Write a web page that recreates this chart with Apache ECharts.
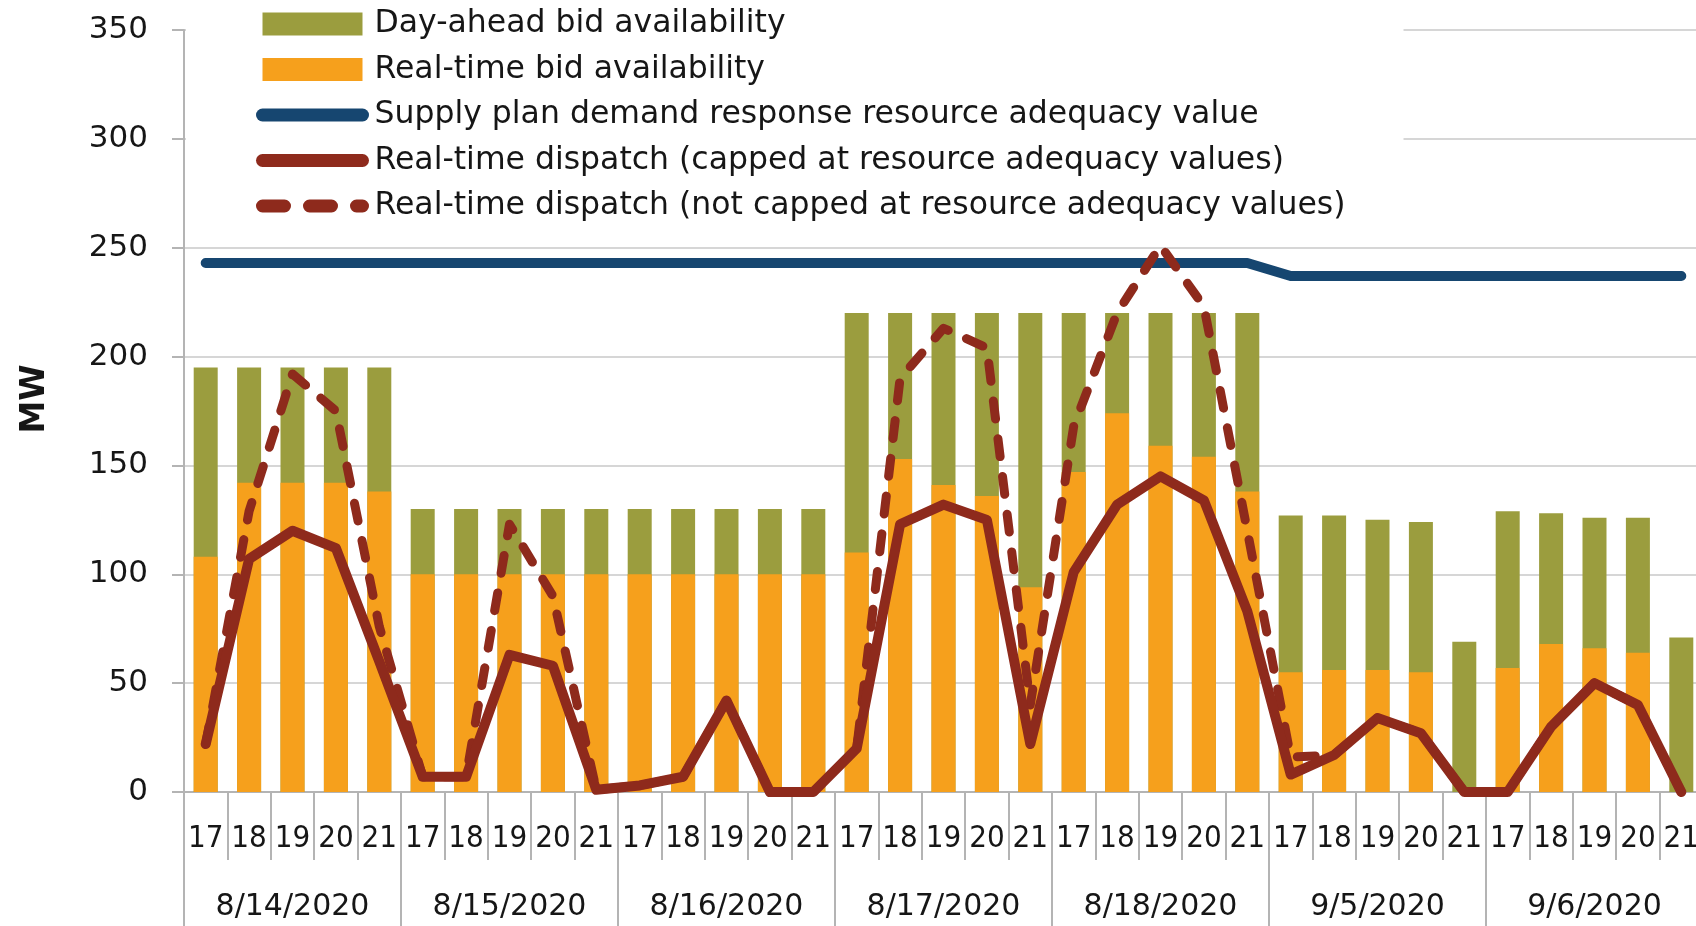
<!DOCTYPE html>
<html>
<head>
  <meta charset="utf-8">
  <title>Demand response availability and dispatch</title>
  <script src="https://cdn.jsdelivr.net/npm/echarts@6/dist/echarts.min.js"></script>
  <style>
    html, body { margin: 0; padding: 0; background: #fff; }
    #main { width: 1696px; height: 926px; }
  </style>
</head>
<body>
<div id="main"></div>
<script>
  const days = ['8/14/2020', '8/15/2020', '8/16/2020', '8/17/2020', '8/18/2020', '9/5/2020', '9/6/2020'];
  const hours = ['17', '18', '19', '20', '21'];

  // MW, one value per hour 17..21 of each day
  const dayAhead = [
    195, 195, 195, 195, 195,
    130, 130, 130, 130, 130,
    130, 130, 130, 130, 130,
    220, 220, 220, 220, 220,
    220, 220, 220, 220, 220,
    127, 127, 125, 124, 69,
    129, 128, 126, 126, 71
  ];
  const realTime = [
    108, 142, 142, 142, 138,
    100, 100, 100, 100, 100,
    100, 100, 100, 100, 100,
    110, 153, 141, 136, 94,
    147, 174, 159, 154, 138,
    55, 56, 56, 55, 0,
    57, 68, 66, 64, 0
  ];
  const supplyPlan = [
    243, 243, 243, 243, 243,
    243, 243, 243, 243, 243,
    243, 243, 243, 243, 243,
    243, 243, 243, 243, 243,
    243, 243, 243, 243, 243,
    237, 237, 237, 237, 237,
    237, 237, 237, 237, 237
  ];
  const dispatchCapped = [
    22, 107, 120, 112, 60,
    7, 7, 63, 58, 1,
    3, 7, 42, 0, 0,
    20, 123, 132, 125, 22,
    101, 132, 145, 134, 83,
    8, 17, 34, 27, 0,
    0, 30, 50, 40, 0
  ];
  const dispatchUncapped = [
    22, 129, 192, 175, 76,
    7, 7, 123, 90, 1,
    3, 7, 42, 0, 0,
    20, 190, 213, 204, 40,
    168, 220, 251, 223, 120,
    16, 17, 34, 27, 0,
    0, 30, 50, 40, 0
  ];

  const hourLabels = days.flatMap(() => hours);

  const textColor = '#161616';
  const gridColor = '#d6d6d6';
  const axisColor = '#b4b4b4';
  const mainFont = "'DejaVu Sans', sans-serif";
  const narrowFont = "'DejaVu Sans Condensed', 'Liberation Sans', sans-serif";

  const names = [
    'Day-ahead bid availability',
    'Real-time bid availability',
    'Supply plan demand response resource adequacy value',
    'Real-time dispatch (capped at resource adequacy values)',
    'Real-time dispatch (not capped at resource adequacy values)'
  ];

  const chart = echarts.init(document.getElementById('main'));

  chart.setOption({
    animation: false,
    backgroundColor: '#fff',
    grid: {
      left: 184,
      right: -7,
      top: 30,
      bottom: 134,
      containLabel: false,
      outerBoundsMode: 'none'
    },
    legend: {
      orient: 'vertical',
      left: 186,
      top: 0,
      padding: [8, 58, 12, 70],
      backgroundColor: '#fff',
      itemWidth: 100,
      itemHeight: 23,
      itemGap: 13.5,
      selectedMode: false,
      textStyle: {
        fontFamily: mainFont,
        fontSize: 31.5,
        lineHeight: 31.5,
        color: textColor,
        padding: [0, 0, 0, 7]
      },
      data: [
        { name: names[0], icon: 'rect' },
        { name: names[1], icon: 'rect' },
        { name: names[2], itemStyle: { opacity: 0 }, lineStyle: { width: 13, cap: 'round' } },
        { name: names[3], itemStyle: { opacity: 0 }, lineStyle: { width: 13, cap: 'round' } },
        { name: names[4], itemStyle: { opacity: 0 }, lineStyle: { width: 13, cap: 'round', type: [22, 25] } }
      ]
    },
    xAxis: [
      {
        type: 'category',
        data: hourLabels,
        position: 'bottom',
        axisLine: { show: true, lineStyle: { color: axisColor, width: 2 } },
        axisTick: { show: true, interval: 0, length: 68, lineStyle: { color: axisColor, width: 2 } },
        axisLabel: {
          interval: 0,
          margin: 31,
          fontFamily: narrowFont,
          fontSize: 31,
          lineHeight: 31,
          color: textColor
        },
        splitLine: { show: false }
      },
      {
        type: 'category',
        data: days,
        position: 'bottom',
        axisLine: { show: false },
        axisTick: { show: true, interval: 0, length: 150, lineStyle: { color: axisColor, width: 2 } },
        axisLabel: {
          interval: 0,
          margin: 100,
          fontFamily: mainFont,
          fontSize: 30,
          lineHeight: 30,
          color: textColor
        },
        splitLine: { show: false }
      }
    ],
    yAxis: {
      type: 'value',
      min: 0,
      max: 350,
      interval: 50,
      name: 'MW',
      nameLocation: 'middle',
      nameRotate: 90,
      nameGap: 132,
      nameTextStyle: {
        fontFamily: mainFont,
        fontWeight: 'bold',
        fontSize: 33,
        color: textColor,
        padding: [0, 0, 0, 24]
      },
      axisLine: { show: true, lineStyle: { color: axisColor, width: 2 } },
      axisTick: { show: true, length: 12, lineStyle: { color: axisColor, width: 2 } },
      axisLabel: {
        margin: 36,
        fontFamily: mainFont,
        fontSize: 31,
        color: textColor
      },
      splitLine: { show: true, lineStyle: { color: gridColor, width: 2 } }
    },
    series: [
      {
        name: names[0],
        type: 'bar',
        data: dayAhead,
        barWidth: 24,
        barGap: '-100%',
        itemStyle: { color: '#9b9d3e' },
        z: 2
      },
      {
        name: names[1],
        type: 'bar',
        data: realTime,
        barWidth: 24,
        barGap: '-100%',
        itemStyle: { color: '#f6a01c' },
        z: 2
      },
      {
        name: names[2],
        type: 'line',
        data: supplyPlan,
        symbol: 'none',
        color: '#164670',
        lineStyle: { color: '#164670', width: 10, cap: 'round', join: 'round' },
        z: 3
      },
      {
        name: names[3],
        type: 'line',
        data: dispatchCapped,
        symbol: 'none',
        color: '#8e2a1c',
        lineStyle: { color: '#8e2a1c', width: 10, cap: 'round', join: 'round' },
        z: 5
      },
      {
        name: names[4],
        type: 'line',
        data: dispatchUncapped,
        symbol: 'none',
        color: '#8e2a1c',
        lineStyle: { color: '#8e2a1c', width: 9, cap: 'round', join: 'round', type: [18, 20] },
        z: 4
      }
    ]
  });
</script>
</body>
</html>
